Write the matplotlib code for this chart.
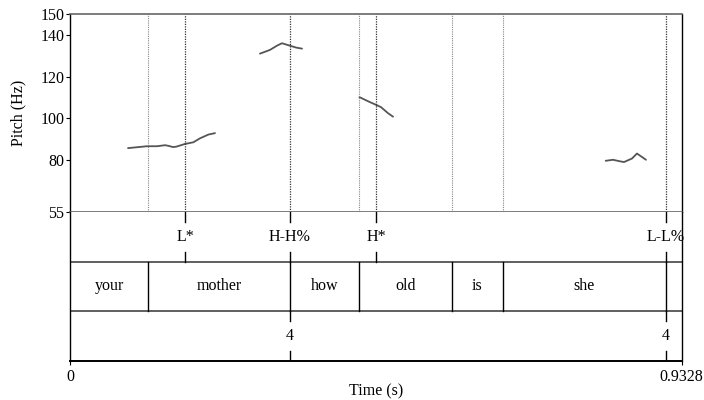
import matplotlib
matplotlib.use("Agg")
import matplotlib.pyplot as plt

plt.rcParams['font.family'] = ['Liberation Serif', 'DejaVu Serif']

# ---- data ----
t_end = 0.9328
pitch_ticks = [55, 80, 100, 120, 140, 150]

words = ["your", "mother", "how", "old", "is", "she", ""]
word_bounds = [0.0, 0.1189, 0.3355, 0.4407, 0.5825, 0.6603, 0.9088, 0.9328]

tones = ["L*", "H-H%", "H*", "L-L%"]
tone_times = [0.1754, 0.3355, 0.4666, 0.9088]

breaks = ["4", "4"]
break_times = [0.3355, 0.9088]

seg1_t = [0.0885, 0.1174, 0.1327, 0.1449, 0.1500, 0.1571, 0.1622, 0.1754, 0.1881, 0.1982, 0.2110, 0.2211]
seg1_f = [85.7, 86.6, 86.6, 87.1, 86.8, 86.2, 86.4, 87.7, 88.5, 90.4, 92.2, 92.9]
seg2_t = [0.2897, 0.3050, 0.3160, 0.3233, 0.3355, 0.3450, 0.3538]
seg2_f = [131.1, 132.9, 135.0, 136.1, 134.9, 134.0, 133.5]
seg3_t = [0.4414, 0.4560, 0.4666, 0.4742, 0.4849, 0.4926]
seg3_f = [110.2, 108.0, 106.5, 105.4, 102.5, 100.8]
seg4_t = [0.8169, 0.8280, 0.8380, 0.8448, 0.8570, 0.8646, 0.8783]
seg4_f = [79.6, 80.1, 79.4, 79.0, 80.7, 83.1, 80.1]

segments = [(seg1_t, seg1_f), (seg2_t, seg2_f), (seg3_t, seg3_f), (seg4_t, seg4_f)]

# ---- figure ----
fig = plt.figure(figsize=(7.04, 4.0), dpi=100)
W, H = 704.0, 400.0
x0, x1 = 70.0, 681.7
y_top, y_mid, y_bot = 14.3, 212.0, 361.0

axp = fig.add_axes([x0 / W, 1 - y_mid / H, (x1 - x0) / W, (y_mid - y_top) / H])
axt = fig.add_axes([x0 / W, 1 - y_bot / H, (x1 - x0) / W, (y_bot - y_mid) / H])

fs = 11.5

# pitch panel
axp.set_xlim(0, t_end)
axp.set_ylim(55, 150)
for t, f in segments:
    axp.plot(t, f, color='#555555', lw=1.3, solid_capstyle='round')
light_lines = [b for b in word_bounds[1:-1] if b not in tone_times and b not in break_times]
for b in light_lines:
    axp.axvline(b, color='#888888', lw=0.8, ls=(0, (1, 1)))
for b in sorted(set(tone_times + break_times)):
    axp.axvline(b, color='#333333', lw=0.9, ls=(0, (1, 1)))
axp.set_yticks(pitch_ticks)
axp.set_yticklabels([str(v) for v in pitch_ticks], fontsize=fs)
axp.tick_params(axis='y', direction='out', length=3, width=0.8, pad=1)
axp.set_xticks([])
for s in ['top', 'bottom']:
    axp.spines[s].set_color('#666666')
    axp.spines[s].set_linewidth(1.2)
axp.spines['left'].set_color('black')
axp.spines['right'].set_color('black')
axp.spines['left'].set_linewidth(1.0)
axp.spines['right'].set_linewidth(1.0)
axp.set_ylabel("Pitch (Hz)", fontsize=fs, labelpad=10)

# tiers
axt.set_xlim(0, t_end)
axt.set_ylim(0, 3)
axt.set_yticks([])
axt.set_xticks([0, t_end])
axt.set_xticklabels(["0", "0.9328"], fontsize=fs)
axt.tick_params(axis='x', direction='out', length=3, width=0.8, pad=3)
for s in axt.spines.values():
    s.set_color('black')
    s.set_linewidth(1.0)
axt.spines['top'].set_visible(False)
axt.spines['bottom'].set_linewidth(1.4)
for yy in [1, 2]:
    axt.axhline(yy, color='#444444', lw=1.2)

tick = 0.2
# tone tier (y 2..3)
for lab, t in zip(tones, tone_times):
    axt.plot([t, t], [3 - tick, 3], color='black', lw=1.0)
    axt.plot([t, t], [2, 2 + tick], color='black', lw=1.0)
    axt.text(t, 2.5, lab, ha='center', va='center', fontsize=fs, clip_on=False)

# word tier (y 1..2)
for b in word_bounds[1:-1]:
    axt.plot([b, b], [1, 2], color='black', lw=1.0)
for i, w in enumerate(words):
    if w:
        axt.text((word_bounds[i] + word_bounds[i + 1]) / 2, 1.5, w,
                 ha='center', va='center', fontsize=fs)

# break tier (y 0..1)
for lab, t in zip(breaks, break_times):
    axt.plot([t, t], [1 - tick, 1], color='black', lw=1.0)
    axt.plot([t, t], [0, tick], color='black', lw=1.0)
    axt.text(t, 0.5, lab, ha='center', va='center', fontsize=fs)

fig.text((x0 + x1) / 2 / W, 1 - 391.5 / H, "Time (s)", ha='center', va='center', fontsize=fs)

fig.savefig("out.png", dpi=100)
